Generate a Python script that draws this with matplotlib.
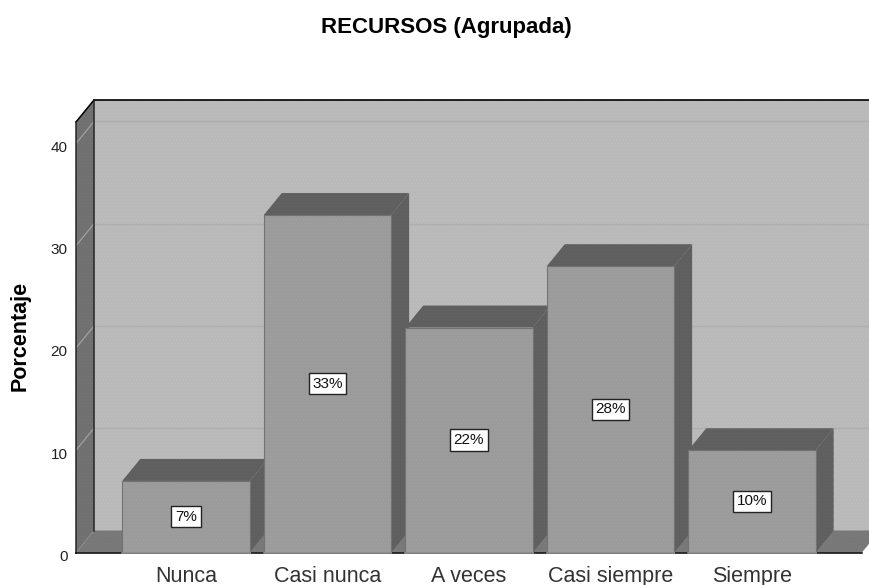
import matplotlib
matplotlib.use("Agg")
import matplotlib.pyplot as plt
from matplotlib.patches import Polygon
from matplotlib.transforms import ScaledTranslation

plt.rcParams['font.family'] = ['Liberation Sans', 'DejaVu Sans']
plt.rcParams['hatch.linewidth'] = 0.3

categorias = ['Nunca', 'Casi nunca', 'A veces', 'Casi siempre', 'Siempre']
porcentajes = [7, 33, 22, 28, 10]
etiquetas = ['7%', '33%', '22%', '28%', '10%']
ticks_y = [0, 10, 20, 30, 40]

ancho = 0.9
prof_x = 0.127
prof_y = 2.15
x_min, x_max = -0.777, 4.827
y_max = 42.1

C_PARED = '#b9b9b9'
C_LATERAL = '#707070'
C_PISO = '#787878'
C_FRENTE = '#9b9b9b'
C_OSCURO = '#5f5f5f'


def cara(ax, puntos, color, z, trama='#00000000'):
    ax.add_patch(Polygon(puntos, closed=True, facecolor=color, edgecolor=trama,
                         hatch='.....', linewidth=0, zorder=z, clip_on=False))


fig = plt.figure(figsize=(8.69, 5.85), dpi=100)
ax = fig.add_axes([76 / 869, (585 - 552.5) / 585, (869 - 76) / 869, 452.5 / 585])
ax.set_xlim(x_min, x_max)
ax.set_ylim(0, y_max + prof_y)

x_piso = x_max - 0.05
x_fin = x_piso + prof_x

# caja de fondo: pared, pared izquierda y piso
cara(ax, [(x_min + prof_x, prof_y), (x_fin, prof_y), (x_fin, y_max + prof_y), (x_min + prof_x, y_max + prof_y)],
     C_PARED, 1, '#c2c2c2')
cara(ax, [(x_min, 0), (x_min + prof_x, prof_y), (x_min + prof_x, y_max + prof_y), (x_min, y_max)],
     C_LATERAL, 2, '#7a7a7a')
cara(ax, [(x_min, 0), (x_piso, 0), (x_fin, prof_y), (x_min + prof_x, prof_y)],
     C_PISO, 2, '#7f7f7f')

# lineas de la grilla
for t in ticks_y[1:]:
    ax.plot([x_min + prof_x, x_fin], [t + prof_y, t + prof_y], color='#aeaeae', lw=1, zorder=3, clip_on=False)
    ax.plot([x_min, x_min + prof_x], [t, t + prof_y], color='#a0a0a0', lw=0.9, zorder=3)

# bordes de la caja
ax.plot([x_min + prof_x, x_fin], [y_max + prof_y] * 2, color='black', lw=1.2, zorder=4, clip_on=False)
ax.plot([x_min, x_min + prof_x], [y_max, y_max + prof_y], color='black', lw=1.1, zorder=4, clip_on=False)
ax.plot([x_min + prof_x, x_min + prof_x], [prof_y, y_max + prof_y], color='#262626', lw=1.1, zorder=4, clip_on=False)
ax.plot([x_min, x_min], [0, y_max], color='#262626', lw=1.1, zorder=4, clip_on=False)
ax.plot([x_min, x_piso], [0, 0], color='black', lw=1.1, zorder=4, clip_on=False)

# barras, de izquierda a derecha
for i, (v, lab) in enumerate(zip(porcentajes, etiquetas)):
    izq, der = i - ancho / 2, i + ancho / 2
    z = 5 + i
    cara(ax, [(izq, v), (der, v), (der + prof_x, v + prof_y), (izq + prof_x, v + prof_y)], C_OSCURO, z, '#666666')
    cara(ax, [(der, 0), (der + prof_x, prof_y), (der + prof_x, v + prof_y), (der, v)], C_OSCURO, z, '#666666')
    cara(ax, [(izq, 0), (der, 0), (der, v), (izq, v)], C_FRENTE, z, '#a3a3a3')
    ax.plot([izq, izq, der, der], [0, v, v, 0], color='#727272', lw=0.8, zorder=z, clip_on=False)
    ax.plot([izq, der], [0, 0], color='#8c8c8c', lw=1.2, zorder=z, clip_on=False)
    ax.text(i, v / 2, lab, ha='center', va='center', fontsize=11, color='#111111', zorder=20,
            bbox=dict(boxstyle='square,pad=0.24', facecolor='white', edgecolor='#222222', linewidth=1))

for s in ax.spines.values():
    s.set_visible(False)
ax.patch.set_visible(False)
ax.set_yticks(ticks_y)
ax.set_xticks(range(len(categorias)))
ax.set_xticklabels(categorias, fontsize=15.5, color='#333333')
ax.tick_params(axis='y', length=0, pad=6, labelsize=11, labelcolor='#222222')
ax.tick_params(axis='x', length=0, pad=9.5)

# los numeros del eje y van un poco por debajo de su linea
bajar = ScaledTranslation(0, -3 / 100, fig.dpi_scale_trans)
for lab in ax.get_yticklabels():
    lab.set_transform(lab.get_transform() + bajar)

ax.set_ylabel('Porcentaje', fontsize=15.5, fontweight='bold')
ax.yaxis.set_label_coords(-45 / 793, 217 / 452.5)

fig.text(446 / 869, 1 - 28 / 585, 'RECURSOS (Agrupada)', ha='center', va='center', fontsize=16, fontweight='bold')

fig.savefig('out.png', dpi=100)
